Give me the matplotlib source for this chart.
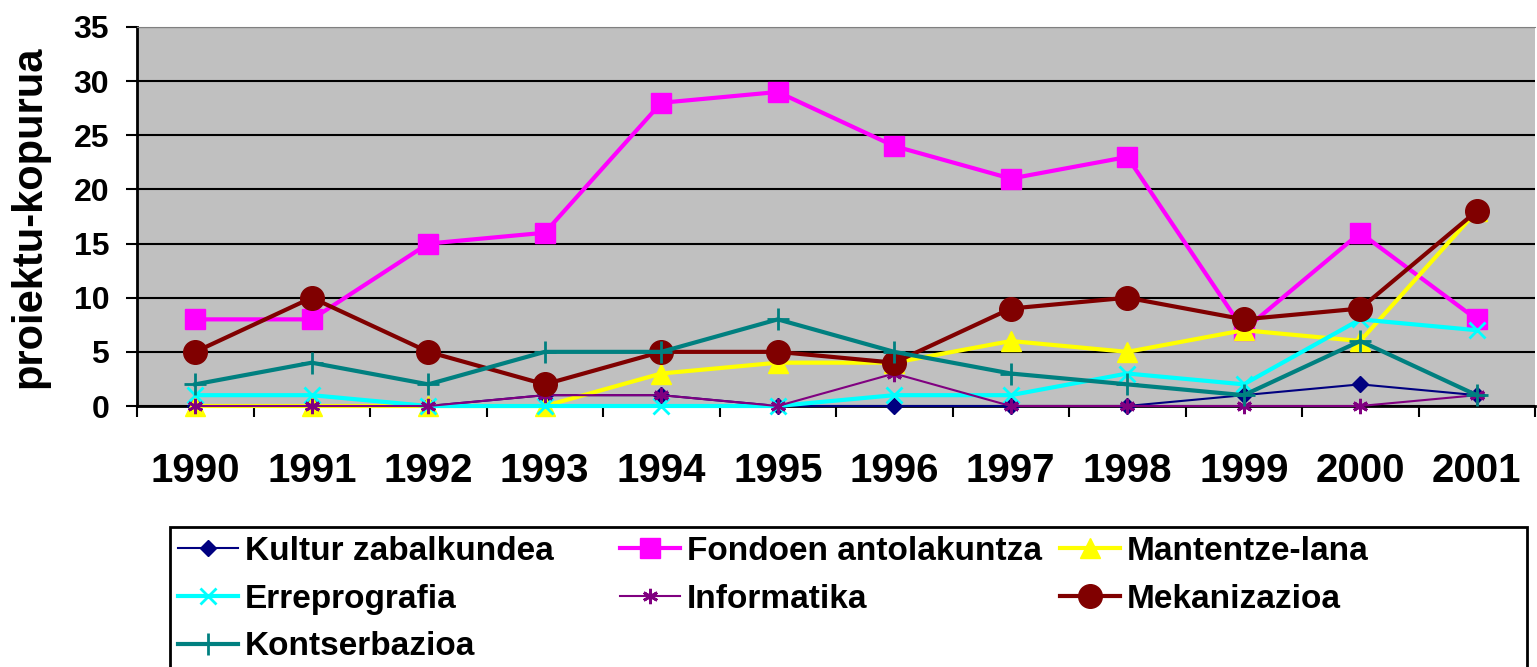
import matplotlib
matplotlib.use('Agg')
import matplotlib.pyplot as plt
from matplotlib.patches import Rectangle

plt.rcParams['font.family'] = ['Liberation Sans', 'DejaVu Sans']
plt.rcParams['font.weight'] = 'bold'

years = ['1990', '1991', '1992', '1993', '1994', '1995',
         '1996', '1997', '1998', '1999', '2000', '2001']
kultur = [0, 0, 0, 1, 1, 0, 0, 0, 0, 1, 2, 1]
fondoen = [8, 8, 15, 16, 28, 29, 24, 21, 23, 7, 16, 8]
mantentze = [0, 0, 0, 0, 3, 4, 4, 6, 5, 7, 6, 18]
erreprografia = [1, 1, 0, 0, 0, 0, 1, 1, 3, 2, 8, 7]
informatika = [0, 0, 0, 1, 1, 0, 3, 0, 0, 0, 0, 1]
mekanizazioa = [5, 10, 5, 2, 5, 5, 4, 9, 10, 8, 9, 18]
kontserbazioa = [2, 4, 2, 5, 5, 8, 5, 3, 2, 1, 6, 1]

# (label, values, color, marker, markersize, linewidth, mew)
series = [
    ('Kultur zabalkundea', kultur, '#000080', 'D', 8, 1.5, 1),
    ('Fondoen antolakuntza', fondoen, '#FF00FF', 's', 14, 3, 1),
    ('Mantentze-lana', mantentze, '#FFFF00', '^', 14, 3, 1),
    ('Erreprografia', erreprografia, '#00FFFF', 'x', 12, 3, 2),
    ('Informatika', informatika, '#800080', (6, 2, 0), 11, 1.5, 2),
    ('Mekanizazioa', mekanizazioa, '#800000', 'o', 17, 3, 1),
    ('Kontserbazioa', kontserbazioa, '#008080', '+', 16, 3, 2),
]

fig = plt.figure(figsize=(15.37, 6.67), dpi=100)
ax = fig.add_axes([137 / 1537, 1 - 406 / 667, 1398 / 1537, 379 / 667])
ax.set_facecolor('#C0C0C0')

x = list(range(len(years)))
handles = {}
for i, (lab, vals, col, mk, ms, lw, mew) in enumerate(series):
    h, = ax.plot(x, vals, color=col, marker=mk, markersize=ms, linewidth=lw,
                 markeredgewidth=mew, markeredgecolor=col, markerfacecolor=col,
                 clip_on=False, zorder=3 + i, label=lab)
    handles[lab] = h

ax.set_xlim(-0.5, 11.5)
ax.set_ylim(0, 35)
ax.set_yticks(range(0, 36, 5))
ax.yaxis.grid(True, color='black', linewidth=1.5)
ax.set_axisbelow(True)
ax.tick_params(axis='y', labelsize=23, length=8, width=1.5, pad=12, direction='out')

ax.set_xticks(x)
ax.set_xticklabels(years)
ax.set_xticks([v - 0.5 for v in range(len(years) + 1)], minor=True)
ax.tick_params(axis='x', which='major', length=0, labelsize=29, pad=33)
ax.tick_params(axis='x', which='minor', length=8, width=1.5, direction='out')
for t in ax.get_xticklabels() + ax.get_yticklabels():
    t.set_fontweight('bold')

ax.spines['left'].set_linewidth(2)
ax.spines['bottom'].set_linewidth(2)
ax.spines['top'].set_color('#808080')
ax.spines['right'].set_visible(False)

ax.set_ylabel('proiektu-kopurua', fontsize=30, fontweight='bold')
ax.yaxis.set_label_coords(-0.063, 0.5)

# legend box (Excel style, three columns)
fig.patches.append(Rectangle((170 / 1537, -0.05), 1357 / 1537, 1 - 527 / 667 + 0.05,
                             transform=fig.transFigure, facecolor='white',
                             edgecolor='black', linewidth=2))
columns = [
    (['Kultur zabalkundea', 'Erreprografia', 'Kontserbazioa'], 178),
    (['Fondoen antolakuntza', 'Informatika'], 620),
    (['Mantentze-lana', 'Mekanizazioa'], 1060),
]
for labs, px in columns:
    fig.legend([handles[l] for l in labs], labs, loc='upper left',
               bbox_to_anchor=(px / 1537, 1 - 536 / 667), frameon=False,
               borderpad=0, borderaxespad=0, handlelength=1.8, handletextpad=0.2,
               labelspacing=0.5, prop={'size': 24, 'weight': 'bold'})

fig.savefig('out.png', dpi=100)
